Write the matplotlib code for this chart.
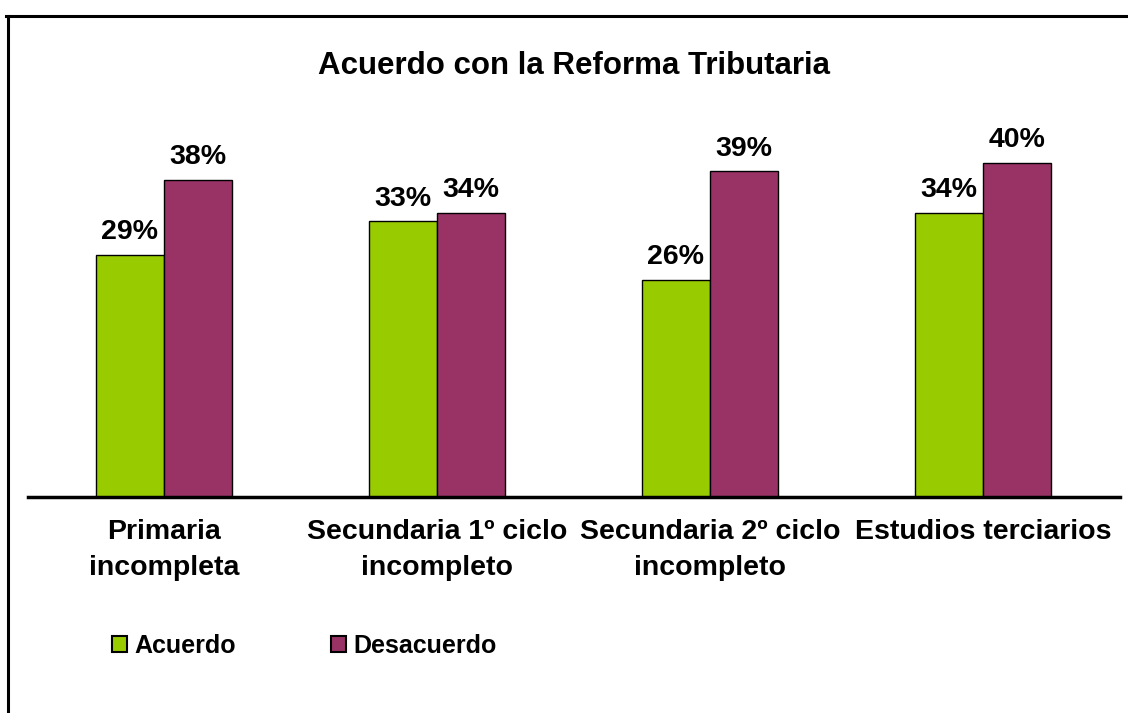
import matplotlib
matplotlib.use("Agg")
import matplotlib.pyplot as plt
import numpy as np
from matplotlib.patches import Rectangle
from matplotlib.lines import Line2D

categories = ["Primaria\nincompleta", "Secundaria 1º ciclo\nincompleto",
              "Secundaria 2º ciclo\nincompleto", "Estudios terciarios"]
acuerdo = [29, 33, 26, 34]
desacuerdo = [38, 34, 39, 40]
series_names = ["Acuerdo", "Desacuerdo"]
colors = ["#99CC00", "#993366"]

plt.rcParams['font.family'] = ['Liberation Sans', 'DejaVu Sans']

W, H = 1128, 713
fig = plt.figure(figsize=(W / 100, H / 100), dpi=100)

# axes placement in pixels
left_px, right_px = 27.5, 1119.5
bottom_px, top_px = 497, 79.5
ax = fig.add_axes([left_px / W, 1 - bottom_px / H, (right_px - left_px) / W, (bottom_px - top_px) / H])
ax.set_xlim(-0.5, len(categories) - 0.5)
ax.set_ylim(0, 50)

x = np.arange(len(categories))
bw = 0.25
for vals, off, col in [(acuerdo, -bw / 2, colors[0]), (desacuerdo, bw / 2, colors[1])]:
    bars = ax.bar(x + off, vals, width=bw, color=col, edgecolor="black", linewidth=1.0, zorder=2)
    for b, v in zip(bars, vals):
        ax.text(b.get_x() + b.get_width() / 2, v + 1.15, f"{v}%", ha="center", va="bottom",
                fontsize=20.5, fontweight="bold")

for s in ["top", "right", "left"]:
    ax.spines[s].set_visible(False)
ax.spines["bottom"].set_linewidth(2.5)
ax.set_yticks([])
ax.set_xticks(x)
ax.set_xticklabels(categories, fontsize=20.5, fontweight="bold", linespacing=1.5)
ax.tick_params(axis="x", length=0, pad=16)

fig.text(574 / W, 1 - 66 / H, "Acuerdo con la Reforma Tributaria", ha="center", va="center",
         fontsize=22.5, fontweight="bold")

# legend
handles = [Rectangle((0, 0), 1, 1, facecolor=c, edgecolor="black", linewidth=1.5) for c in colors]
fig.legend(handles, series_names, loc="center left", bbox_to_anchor=(89 / W, 1 - 646 / H),
           ncol=2, frameon=False, prop={"weight": "bold", "size": 18},
           handlelength=0.6, handleheight=0.6, handletextpad=0.3, columnspacing=3.8)

# border (top and left)
fig.add_artist(Line2D([6 / W, 1], [1 - 16 / H, 1 - 16 / H], color="black", linewidth=2.2,
                      transform=fig.transFigure))
fig.add_artist(Line2D([7.5 / W, 7.5 / W], [0, 1 - 16 / H], color="black", linewidth=2.2,
                      transform=fig.transFigure))

fig.savefig("out.png", dpi=100)
